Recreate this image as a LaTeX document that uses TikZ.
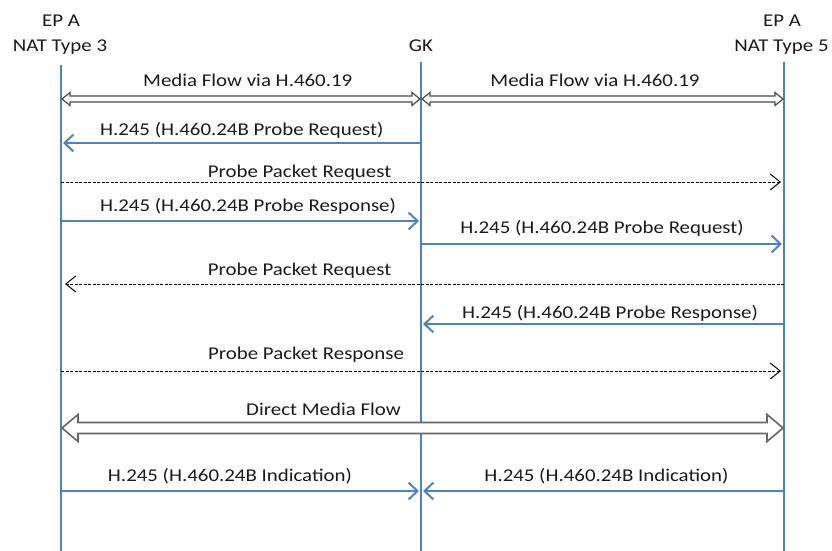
\documentclass[tikz,border=0pt]{standalone}
\usepackage{fontspec}
\setmainfont{Carlito}[FakeStretch=1.16]
\usetikzlibrary{arrows.meta,calc}
\definecolor{lblue}{HTML}{4F81BD}
\definecolor{txt}{HTML}{1A1A1A}
\newcommand\blockarr[6]{%
  \draw[#6] (#1) -- ($(#1)+(#5,#4)$) -- ($(#1)+(#5,#3)$) -- ($(#2)+(-#5,#3)$) -- ($(#2)+(-#5,#4)$) -- (#2)
   -- ($(#2)+(-#5,-#4)$) -- ($(#2)+(-#5,-#3)$) -- ($(#1)+(#5,-#3)$) -- ($(#1)+(#5,-#4)$) -- cycle;}
\begin{document}
\begin{tikzpicture}[x=1pt,y=-1pt,
  every node/.style={font=\fontsize{18}{20}\selectfont, text=txt, inner sep=0pt},
  lbl/.style={anchor=base},
  life/.style={draw=lblue, line width=2pt},
  msg/.style={draw=lblue, line width=2pt, -{Straight Barb[length=9pt,width=17pt]}},
  probe/.style={draw=black, line width=0.9pt, dash pattern=on 3pt off 1.5pt, -{Straight Barb[length=10pt,width=16pt,line width=1pt]}},
  thinblk/.style={draw=black!70, fill=white, line width=1.2pt, line join=miter},
  bigblk/.style={draw=black!60, fill=white, line width=1.6pt, line join=miter}]
\useasboundingbox (0,0) rectangle (832,551);
% headers
\node[lbl] (epa1) at (61,26.5) {EP A};
\node[lbl] (nat3) at (60,52) {NAT Type 3};
\node[lbl] (gk) at (421,52) {GK};
\node[lbl] (epa2) at (782,26.5) {EP A};
\node[lbl] (nat5) at (781.5,52) {NAT Type 5};
% lifelines
\coordinate (Ltop) at (61,65);  \coordinate (Lbot) at (61,551);
\coordinate (Gtop) at (421,62); \coordinate (Gbot) at (421,551);
\coordinate (Rtop) at (784,62); \coordinate (Rbot) at (784,551);
\draw[life] (Ltop) -- (Lbot);
\draw[life] (Gtop) -- (Gbot);
\draw[life] (Rtop) -- (Rbot);
% 1 media flow
\coordinate (m1a) at (62,99); \coordinate (m1b) at (420,99);
\coordinate (m1c) at (422,99); \coordinate (m1d) at (783,99);
\blockarr{m1a}{m1b}{3}{6.5}{8}{thinblk}
\blockarr{m1c}{m1d}{3}{6.5}{8}{thinblk}
\node[lbl] (t1a) at (247.7,86) {Media Flow via H.460.19};
\node[lbl] (t1b) at (595,86) {Media Flow via H.460.19};
% 2
\coordinate (m2a) at (421,143); \coordinate (m2b) at (63,143);
\draw[msg] (m2a) -- (m2b);
\node[lbl] (t2) at (241.7,135) {H.245 (H.460.24B Probe Request)};
% 3
\coordinate (m3a) at (61,182); \coordinate (m3b) at (781,182);
\draw[probe] (m3a) -- (m3b);
\node[lbl] (t3) at (299.5,177) {Probe Packet Request};
% 4
\coordinate (m4a) at (61,221); \coordinate (m4b) at (419,221);
\draw[msg] (m4a) -- (m4b);
\node[lbl] (t4) at (248,211) {H.245 (H.460.24B Probe Response)};
% 5
\coordinate (m5a) at (421,244); \coordinate (m5b) at (782,244);
\draw[msg] (m5a) -- (m5b);
\node[lbl] (t5) at (602,233) {H.245 (H.460.24B Probe Request)};
% 6
\coordinate (m6a) at (784,284); \coordinate (m6b) at (65,284);
\draw[probe] (m6a) -- (m6b);
\node[lbl] (t6) at (299.5,275) {Probe Packet Request};
% 7
\coordinate (m7a) at (784,324); \coordinate (m7b) at (423,324);
\draw[msg] (m7a) -- (m7b);
\node[lbl] (t7) at (610,318) {H.245 (H.460.24B Probe Response)};
% 8
\coordinate (m8a) at (61,371); \coordinate (m8b) at (781,371);
\draw[probe] (m8a) -- (m8b);
\node[lbl] (t8) at (306,359) {Probe Packet Response};
% 9 direct media flow
\coordinate (m9a) at (62,428); \coordinate (m9b) at (783,428);
\blockarr{m9a}{m9b}{5.5}{13.5}{16}{bigblk}
\node[lbl] (t9) at (323.5,415) {Direct Media Flow};
% 10
\coordinate (m10a) at (61,491); \coordinate (m10b) at (419,491);
\coordinate (m10c) at (784,491); \coordinate (m10d) at (423,491);
\draw[msg] (m10a) -- (m10b);
\draw[msg] (m10c) -- (m10d);
\node[lbl] (t10a) at (230,481) {H.245 (H.460.24B Indication)};
\node[lbl] (t10b) at (606.5,481) {H.245 (H.460.24B Indication)};
\end{tikzpicture}
\end{document}
